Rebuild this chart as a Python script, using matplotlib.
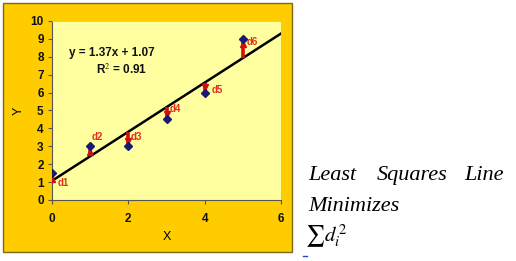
import numpy as np
import matplotlib
matplotlib.use("Agg")
import matplotlib.pyplot as plt
from matplotlib.patches import Rectangle
from matplotlib.lines import Line2D

# data
x_vals = [0, 1, 2, 3, 4, 5]
y_vals = [1.5, 3, 3, 4.5, 6, 9]
labels = ["d1", "d2", "d3", "d4", "d5", "d6"]
x_ticks = [0, 2, 4, 6]
y_ticks = [0, 1, 2, 3, 4, 5, 6, 7, 8, 9, 10]

# label offsets from each point (layout only)
lab_dx = [0.3, 0.2, 0.22, 0.24, 0.33, 0.24]
lab_dy = [-0.55, 0.5, 0.5, 0.58, 0.15, -0.2]

x = np.array(x_vals, dtype=float)
y = np.array(y_vals, dtype=float)
slope, icept = np.polyfit(x, y, 1)
fit = slope * x + icept
r2 = 1 - np.sum((y - fit) ** 2) / np.sum((y - y.mean()) ** 2)

plt.rcParams['font.family'] = ['Liberation Sans', 'DejaVu Sans']
plt.rcParams['mathtext.fontset'] = 'stix'

fig = plt.figure(figsize=(5.16, 2.61), dpi=100)

# orange chart frame
fig.patches.append(Rectangle((3 / 516, 1 - 252 / 261), 289 / 516, 249 / 261,
                             transform=fig.transFigure, facecolor='#FFCC00',
                             edgecolor='#7A6A1E', linewidth=1.0, zorder=-5))

ax = fig.add_axes([52 / 516, 1 - 200 / 261, 229 / 516, 179 / 261])
ax.set_zorder(2)
ax.set_facecolor('#FFFFA0')
ax.set_xlim(0, 6)
ax.set_ylim(0, 10)
ax.set_xticks(x_ticks)
ax.set_yticks(y_ticks)

for s in ['top', 'right']:
    ax.spines[s].set_color('#C8C890')
    ax.spines[s].set_linewidth(0.6)
for s in ['left', 'bottom']:
    ax.spines[s].set_color('#555555')
    ax.spines[s].set_linewidth(0.8)

ax.tick_params(axis='both', direction='out', length=3, width=0.8, color='#555555',
               labelsize=8.5, labelcolor='#111111')
ax.tick_params(axis='x', pad=6)
ax.tick_params(axis='y', pad=3)
for t in ax.get_xticklabels() + ax.get_yticklabels():
    t.set_fontweight('bold')
ax.set_xlabel("X", fontsize=9, labelpad=5)
ax.set_ylabel("Y", fontsize=9, labelpad=4)

# fitted line
xl = np.array([0, 6])
ax.plot(xl, slope * xl + icept, color='black', linewidth=1.8, zorder=2)

# residual arrows from line to point: shaft + small head under the marker
red = '#D01010'
ax.vlines(x, fit, y, colors=red, linewidth=2.6, zorder=3)
up = y > fit
ax.plot(x[up], y[up] - 0.3, linestyle='none', marker='^', markersize=4.5,
        color=red, zorder=3)
ax.plot(x[~up], y[~up] + 0.3, linestyle='none', marker='v', markersize=4.5,
        color=red, zorder=3)

ax.plot(x, y, linestyle='none', marker='D', markersize=4.3, color='#1A1A70', zorder=4)

for xi, yi, lab, dx, dy in zip(x, y, labels, lab_dx, lab_dy):
    ax.text(xi + dx, yi + dy, lab, color='#E03020', fontsize=7, fontweight='bold',
            ha='center', va='center')

ax.text(0.26, 0.82, "y = %.2fx + %.2f" % (slope, icept), transform=ax.transAxes,
        ha='center', va='center', fontsize=8.5, fontweight='semibold', color='#111111')
ax.text(0.305, 0.726, "R$^2$ = %.2f" % r2, transform=ax.transAxes,
        ha='center', va='center', fontsize=8.5, fontweight='semibold', color='#111111')

# right side caption
cap = dict(fontsize=16, family='Liberation Serif', style='italic', color='black',
           va='baseline')
fig.text(308 / 516, 1 - 180 / 261, "Least", ha='left', **cap)
fig.text(377 / 516, 1 - 180 / 261, "Squares", ha='left', **cap)
fig.text(504 / 516, 1 - 180 / 261, "Line", ha='right', **cap)
fig.text(308 / 516, 1 - 211 / 261, "Minimizes", ha='left', **cap)
fig.text(305 / 516, 1 - 242 / 261, r"$\sum d_i^{\,2}$", ha='left', fontsize=15,
         color='black', va='baseline')
fig.lines.append(Line2D([303 / 516, 307 / 516], [1 - 256 / 261, 1 - 256 / 261],
                        transform=fig.transFigure, color='#3344CC', linewidth=1))

fig.savefig("out.png", dpi=100)
